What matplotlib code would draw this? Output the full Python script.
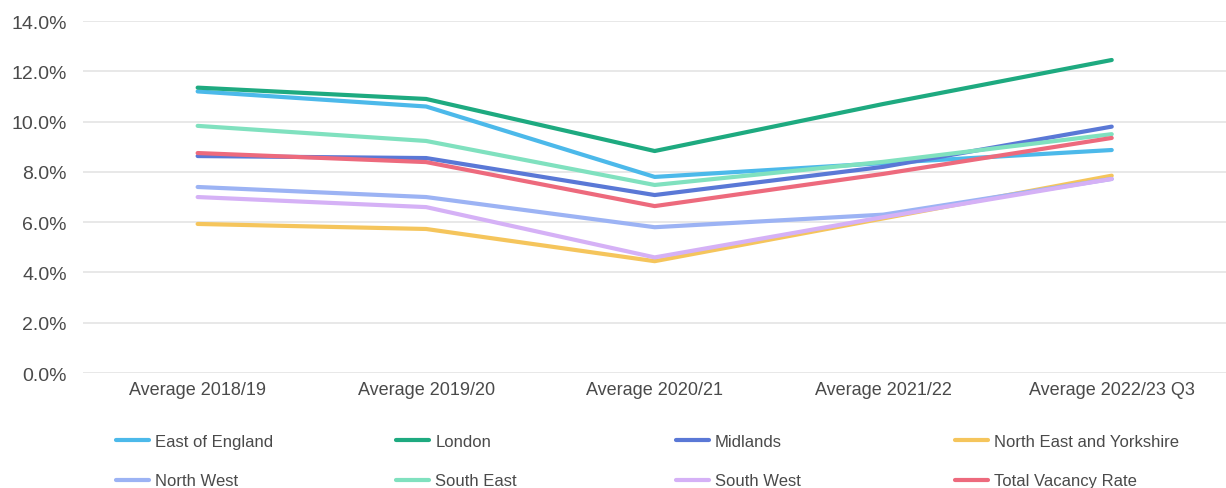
import numpy as np
import matplotlib
matplotlib.use("Agg")
import matplotlib.pyplot as plt
from matplotlib.ticker import FuncFormatter

plt.rcParams['font.family'] = ['Liberation Sans', 'DejaVu Sans']

# periods on the x axis
periods = ["Average 2018/19", "Average 2019/20", "Average 2020/21",
           "Average 2021/22", "Average 2022/23 Q3"]

# vacancy rates (%)
east_of_england = [11.2, 10.6, 7.8, 8.35, 8.87]
london = [11.35, 10.9, 8.83, 10.7, 12.45]
midlands = [8.63, 8.55, 7.08, 8.2, 9.8]
north_east_yorks = [5.93, 5.73, 4.45, 6.15, 7.85]
north_west = [7.4, 7.0, 5.8, 6.3, 7.72]
south_east = [9.83, 9.23, 7.48, 8.4, 9.5]
south_west = [7.0, 6.6, 4.6, 6.2, 7.72]
total_rate = [8.75, 8.39, 6.64, 7.92, 9.35]

series = [
    ("East of England", east_of_england, "#4cb9ea"),
    ("London", london, "#1eaa80"),
    ("Midlands", midlands, "#5a78d6"),
    ("North East and Yorkshire", north_east_yorks, "#f5c55c"),
    ("North West", north_west, "#9cb3f4"),
    ("South East", south_east, "#80e1bf"),
    ("South West", south_west, "#d5b1f6"),
    ("Total Vacancy Rate", total_rate, "#ed6a7d"),
]

fig = plt.figure(figsize=(12.26, 4.89), dpi=100)
ax = fig.add_axes([0.068, 0.235, 0.932, 0.72])

x = np.arange(len(periods))
lines = []
for name, vals, col in series:
    ln, = ax.plot(x, vals, color=col, lw=3, solid_capstyle='round', label=name)
    lines.append(ln)

ax.set_xlim(-0.5, len(periods) - 0.5)
ax.set_ylim(0, 14)
ax.set_yticks(np.arange(0, 14.1, 2))
ax.yaxis.set_major_formatter(FuncFormatter(lambda v, p: f"{v:.1f}%"))
ax.set_xticks(x)
ax.set_xticklabels(periods)
ax.grid(axis='y', color='#e4e4e4', lw=1.2)
ax.set_axisbelow(True)
for s in ax.spines.values():
    s.set_visible(False)
ax.tick_params(length=0, colors='#4a4a4a')
ax.tick_params(axis='x', pad=6, labelsize=13)
ax.tick_params(axis='y', pad=12, labelsize=14)

# legend: 4 evenly spaced columns, filled row by row like the original
col_x = [0.0945, 0.323, 0.551, 0.779]
for c in range(4):
    hs = [lines[c], lines[c + 4]]
    leg = fig.legend(hs, [h.get_label() for h in hs], ncol=1,
                     loc='upper left', bbox_to_anchor=(col_x[c], 0.11),
                     frameon=False, fontsize=12, handlelength=2.0,
                     handletextpad=0.35, labelspacing=1.45,
                     borderaxespad=0, borderpad=0)
    for t in leg.get_texts():
        t.set_color('#4a4a4a')

fig.savefig("out.png", dpi=100)
